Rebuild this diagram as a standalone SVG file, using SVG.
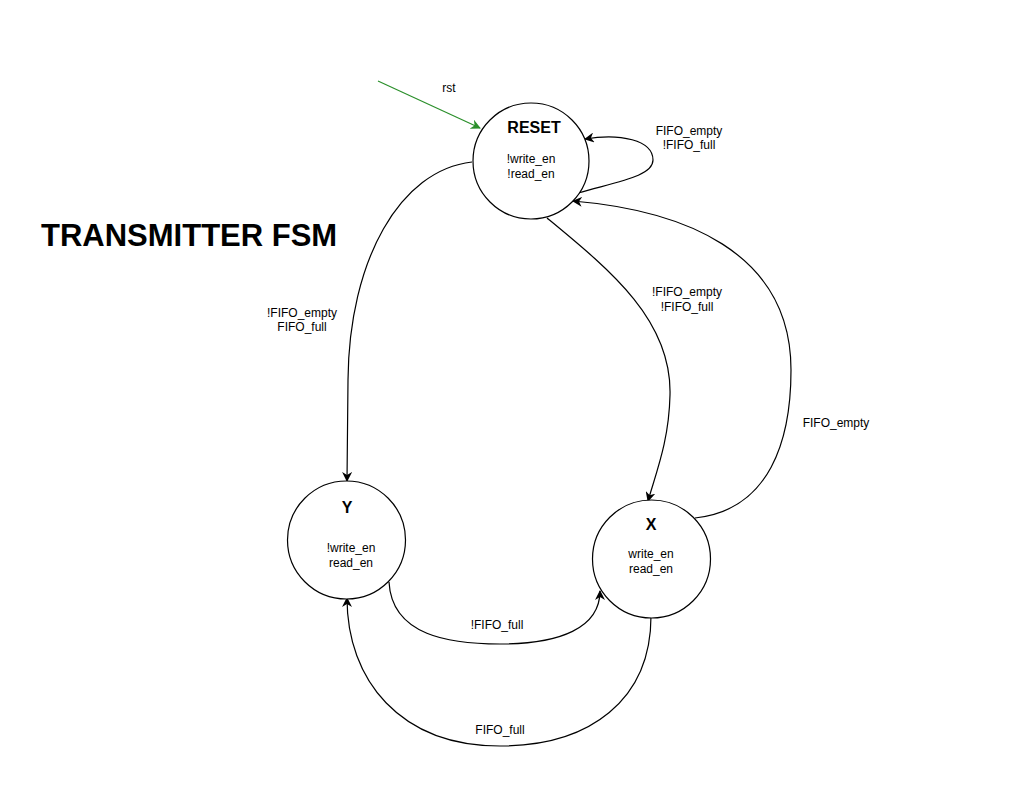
<svg xmlns="http://www.w3.org/2000/svg" width="1012" height="807" viewBox="0 0 1012 807">
<style>
.node{fill:#ffffff;stroke:#000000;stroke-width:1.2}
.t{font-family:"Liberation Sans",Arial,sans-serif;font-size:12px;fill:#000000;text-anchor:middle}
.b{font-family:"Liberation Sans",Arial,sans-serif;font-size:16px;font-weight:bold;fill:#000000;text-anchor:middle}
.e{fill:none;stroke:#000000;stroke-width:1.2;marker-end:url(#ah)}
</style>
<defs>
<marker id="ah" viewBox="0 0 10 10" refX="9" refY="5" markerWidth="10" markerHeight="10" markerUnits="userSpaceOnUse" orient="auto">
<path d="M0,0 L10,5 L0,10 L3,5 Z" fill="#000000"/>
</marker>
<marker id="ahg" viewBox="0 0 10 10" refX="9" refY="5" markerWidth="10" markerHeight="10" markerUnits="userSpaceOnUse" orient="auto">
<path d="M0,0 L10,5 L0,10 L3,5 Z" fill="#2a8f2a"/>
</marker>
</defs>
<rect width="1012" height="807" fill="#ffffff"/>
<text x="41" y="246" font-family="'Liberation Sans',Arial,sans-serif" font-size="31" font-weight="bold" fill="#000000">TRANSMITTER FSM</text>
<g id="connectors">
<path d="M378 81 L480 128" fill="none" stroke="#2a8f2a" stroke-width="1.2" marker-end="url(#ahg)"/>
<path class="e" d="M578 193 C620 181 653 176 653 160 C653 140 620 133 585 139"/>
<path class="e" d="M472 162 C400 170 349 260 348 380 L347 481"/>
<path class="e" d="M547 218 C610 270 672 320 670 395 C669 440 657 470 648 501"/>
<path class="e" d="M695 518 C770 510 791 440 791 370 C791 250 680 210 573 201"/>
<path class="e" d="M389 582 C392 636 450 644 500 644 C560 644 600 628 600 591"/>
<path class="e" d="M651 616 C651 700 590 746 500 746 C400 746 347 680 347 598"/>
</g>
<g id="labels">
<text class="t" x="449" y="92">rst</text>
<text class="t" x="689" y="135">FIFO_empty</text>
<text class="t" x="689" y="149">!FIFO_full</text>
<text class="t" x="302" y="317">!FIFO_empty</text>
<text class="t" x="302" y="331">FIFO_full</text>
<text class="t" x="687" y="296">!FIFO_empty</text>
<text class="t" x="687" y="311">!FIFO_full</text>
<text class="t" x="836" y="427">FIFO_empty</text>
<text class="t" x="497" y="629">!FIFO_full</text>
<text class="t" x="500" y="734">FIFO_full</text>
</g>
<g id="RESET">
<circle class="node" cx="531" cy="161" r="58"/>
<text class="b" x="534" y="133">RESET</text>
<text class="t" x="531" y="163">!write_en</text>
<text class="t" x="531" y="178">!read_en</text>
</g>
<g id="Y">
<circle class="node" cx="346.5" cy="540" r="59"/>
<text class="b" x="347" y="513">Y</text>
<text class="t" x="351" y="552">!write_en</text>
<text class="t" x="351" y="567">read_en</text>
</g>
<g id="X">
<circle class="node" cx="651.5" cy="559" r="59"/>
<text class="b" x="651" y="530">X</text>
<text class="t" x="651" y="558">write_en</text>
<text class="t" x="651" y="573">read_en</text>
</g>
</svg>
